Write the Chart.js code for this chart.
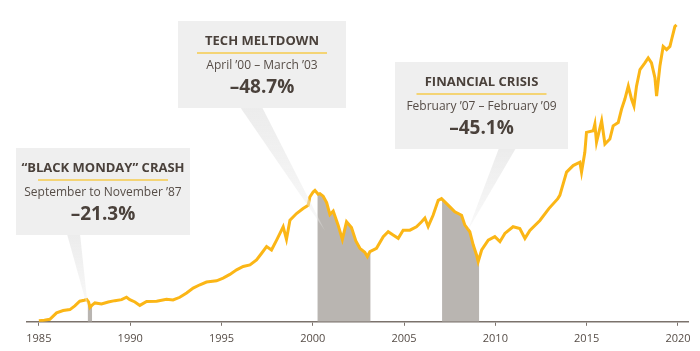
<!DOCTYPE html>
<html>
<head>
<meta charset="utf-8">
<script src="https://cdn.jsdelivr.net/npm/chart.js@4.4.1/dist/chart.umd.min.js"></script>
<style>
  html, body { margin: 0; padding: 0; background: #fff; }
  #wrap { width: 700px; height: 351px; }
</style>
</head>
<body>
<div id="wrap"><canvas id="marketChart"></canvas></div>
<script>
// Index level (decimal years)
const years = [
  1985.00, 1985.30, 1985.60, 1985.97, 1986.33, 1986.70, 1986.97, 1987.24, 1987.48, 1987.62,
  1987.72, 1987.80, 1987.90, 1988.07, 1988.43, 1988.80, 1989.16, 1989.53, 1989.80, 1989.98,
  1990.26, 1990.53, 1990.90, 1991.45, 1991.99, 1992.35, 1992.72, 1993.09, 1993.45, 1993.82,
  1994.18, 1994.73, 1995.09, 1995.46, 1995.83, 1996.19, 1996.56, 1996.92, 1997.20, 1997.47,
  1997.74, 1998.02, 1998.38, 1998.56, 1998.75, 1999.11, 1999.47, 1999.75, 1999.84, 2000.02,
  2000.12, 2000.30, 2000.39, 2000.57, 2000.76, 2000.94, 2001.12, 2001.39, 2001.62, 2001.85,
  2002.12, 2002.36, 2002.58, 2002.85, 2002.99, 2003.13, 2003.49, 2003.86, 2004.13, 2004.40,
  2004.68, 2004.95, 2005.32, 2005.68, 2005.96, 2006.14, 2006.32, 2006.59, 2006.87, 2007.05,
  2007.33, 2007.51, 2007.78, 2008.15, 2008.33, 2008.60, 2008.79, 2008.97, 2009.06, 2009.25,
  2009.61, 2009.97, 2010.25, 2010.52, 2010.97, 2011.34, 2011.62, 2011.89, 2012.44, 2012.93,
  2013.42, 2013.53, 2013.90, 2014.26, 2014.63, 2014.72, 2014.90, 2014.99, 2015.36, 2015.45,
  2015.54, 2015.82, 2016.00, 2016.27, 2016.45, 2016.73, 2016.91, 2017.09, 2017.28, 2017.46,
  2017.59, 2017.73, 2017.92, 2018.19, 2018.37, 2018.55, 2018.74, 2018.83, 2019.01, 2019.19,
  2019.38, 2019.56, 2019.65, 2019.83, 2019.92
];
const indexLevel = [
  1, 1.5, 2.5, 9, 11.3, 12.3, 16, 20.7, 21.7, 22.5,
  20, 14.5, 16.5, 19, 18, 20, 21.3, 22.3, 24.7, 22.3,
  20, 16.5, 20.5, 20.7, 22.7, 22, 24.7, 29, 34, 37.3,
  40, 41.3, 44, 47.7, 52.3, 55.7, 57.3, 62.3, 69, 75.7,
  72.3, 82.3, 95.7, 83, 102.3, 109, 114, 117.3, 125.7, 130.7,
  132.3, 128.5, 129, 126.5, 120, 108, 111.5, 97.3, 83, 100.7,
  95, 81.5, 74, 70, 65.7, 70.7, 74, 85.7, 90.7, 87.3,
  84, 92.3, 92.3, 95.7, 100.7, 104.5, 96, 107.3, 122.3, 124,
  119, 115.7, 110.7, 107.3, 97.3, 90.7, 77.3, 67.3, 60.7, 72.3,
  82.3, 85.7, 80.7, 89, 95.7, 94, 84, 92, 102, 114,
  124, 127.3, 150.7, 157.3, 160.7, 150.7, 170.7, 190.7, 192.3, 199,
  180.7, 202.3, 179, 184, 197.3, 200.7, 214, 224, 237.3, 224,
  217.3, 237.3, 254, 260.7, 265.7, 260.7, 245.7, 227.3, 257.3, 277.3,
  274, 277.3, 284, 297.3, 299
];
const tickYears = [1985, 1990, 1995, 2000, 2005, 2010, 2015, 2020];

// Crash periods
const crashNames = ['“BLACK MONDAY” CRASH', 'TECH MELTDOWN', 'FINANCIAL CRISIS'];
const crashRanges = ['September to November ’87', 'April ’00 – March ’03', 'February ’07 – February ’09'];
const crashDrops = ['–21.3%', '–48.7%', '–45.1%'];
const crashStart = [1987.67, 2000.25, 2007.08];
const crashEnd = [1987.92, 2003.17, 2009.12];

const gold = '#fbb616';
const shade = '#b9b5b1';
const boxColor = '#efefef';
const textDark = '#4a413b';

// value of the line at a given year (for the edges of the shaded areas)
function levelAt(t) {
  for (let i = 1; i < years.length; i++) {
    if (years[i] >= t) {
      const f = (t - years[i - 1]) / (years[i] - years[i - 1]);
      return indexLevel[i - 1] + f * (indexLevel[i] - indexLevel[i - 1]);
    }
  }
  return indexLevel[indexLevel.length - 1];
}

function clipPeriod(a, b) {
  const pts = [{ x: a, y: levelAt(a) }];
  years.forEach((t, i) => {
    if (t > a && t < b) pts.push({ x: t, y: indexLevel[i] });
  });
  pts.push({ x: b, y: levelAt(b) });
  return pts;
}

const shadeSets = crashStart.map((s, i) => ({
  label: crashNames[i],
  data: clipPeriod(s, crashEnd[i]),
  borderWidth: 0,
  pointRadius: 0,
  backgroundColor: shade,
  fill: 'origin',
  order: 2
}));

// callout boxes (pixel layout) with a pointer to a spot on the chart
const callouts = [
  { x: 16, y: 148, w: 174, h: 87, base: [67, 80], tip: [1987.70, 12] },
  { x: 178, y: 21, w: 168, h: 87, base: [240, 262], tip: [2000.66, 92] },
  { x: 395, y: 62, w: 173, h: 87, base: [499, 516], tip: [2008.49, 92] }
];

const calloutPlugin = {
  id: 'callouts',
  afterDatasetsDraw(chart) {
    const { ctx, scales } = chart;
    ctx.save();
    callouts.forEach((c, i) => {
      const tx = scales.x.getPixelForValue(c.tip[0]);
      const ty = scales.y.getPixelForValue(c.tip[1]);
      const by = c.y + c.h;
      const g = ctx.createLinearGradient(0, by, 0, ty);
      g.addColorStop(0, 'rgba(236,236,236,1)');
      g.addColorStop(1, 'rgba(236,236,236,0.3)');
      ctx.fillStyle = g;
      ctx.beginPath();
      ctx.moveTo(c.base[0], by - 1);
      ctx.lineTo(c.base[1], by - 1);
      ctx.lineTo(tx, ty);
      ctx.closePath();
      ctx.fill();

      ctx.fillStyle = boxColor;
      ctx.fillRect(c.x, c.y, c.w, c.h);

      const cx = c.x + c.w / 2;
      ctx.textAlign = 'center';
      ctx.textBaseline = 'middle';
      ctx.fillStyle = textDark;
      ctx.font = 'bold 13px "Open Sans"';
      ctx.fillText(crashNames[i], cx, c.y + 20);

      ctx.strokeStyle = '#f6cb4c';
      ctx.lineWidth = 1.5;
      ctx.beginPath();
      ctx.moveTo(cx - 65, c.y + 32);
      ctx.lineTo(cx + 65, c.y + 32);
      ctx.stroke();

      ctx.fillStyle = '#564d47';
      ctx.font = '12px "Open Sans"';
      ctx.fillText(crashRanges[i], cx, c.y + 45);

      ctx.fillStyle = textDark;
      ctx.font = 'bold 19px "Open Sans"';
      ctx.fillText(crashDrops[i], cx, c.y + 67);
    });
    ctx.restore();
  }
};

const marketChart = new Chart(document.getElementById('marketChart'), {
  type: 'line',
  data: {
    datasets: [
      {
        label: 'Index',
        data: years.map((t, i) => ({ x: t, y: indexLevel[i] })),
        borderColor: gold,
        borderWidth: 3,
        pointRadius: 0,
        tension: 0,
        fill: false,
        order: 1
      },
      ...shadeSets
    ]
  },
  options: {
    responsive: true,
    maintainAspectRatio: false,
    animation: false,
    layout: { padding: { top: 4, left: 27, right: 12, bottom: 0 } },
    plugins: {
      legend: { display: false },
      tooltip: { enabled: false }
    },
    scales: {
      x: {
        type: 'linear',
        min: 1984.35,
        max: 2020.55,
        afterBuildTicks: axis => { axis.ticks = tickYears.map(v => ({ value: v })); },
        grid: { drawOnChartArea: false, drawTicks: true, tickLength: 4, color: '#7b726c' },
        border: { color: '#7b726c', width: 1.6 },
        ticks: {
          color: '#564d47',
          font: { family: 'Open Sans', size: 11 },
          padding: 6,
          maxRotation: 0,
          callback: v => String(v)
        }
      },
      y: {
        display: false,
        min: 0,
        max: 320
      }
    }
  },
  plugins: [calloutPlugin]
});
</script>
</body>
</html>
